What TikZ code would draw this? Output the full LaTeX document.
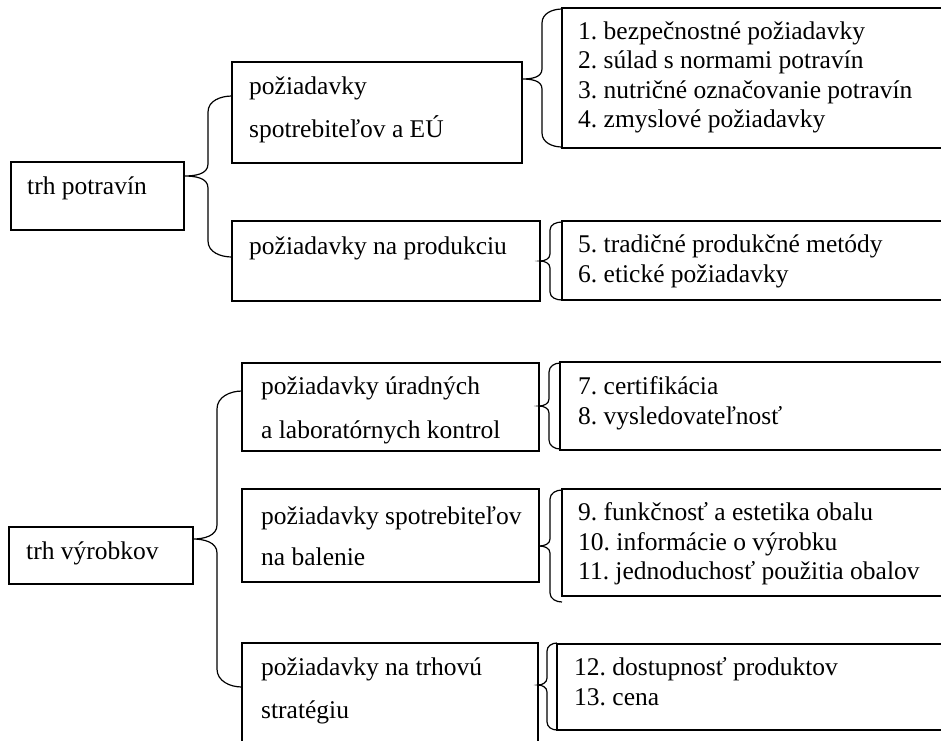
\documentclass[tikz,border=0pt]{standalone}
\usepackage{fontspec}
\setmainfont{Liberation Serif}
\frenchspacing
\newcommand\mybrc[8]{%
  \draw[brc] (#4,#5) to[out=180,in=90] (#3,{#5+#8}) -- (#3,{#2-#7})
    to[out=-90,in=0] (#1,#2) to[out=0,in=90] (#3,{#2+#7}) -- (#3,{#6-#8})
    to[out=-90,in=180] (#4,#6);}
\begin{document}
\frenchspacing
\begin{tikzpicture}[x=1pt,y=-1pt,
  box/.style={draw, line width=1.4pt, inner sep=0pt, outer sep=0pt, anchor=north west},
  brc/.style={line width=1.2pt},
  txt/.style={inner sep=0pt, anchor=base west, font=\fontsize{25.5}{29}\selectfont\frenchspacing}]
\useasboundingbox (0,0) rectangle (941,740);
\clip (0,0) rectangle (941,740);
% boxes
\node[box, minimum width=173pt, minimum height=68pt] (T1) at (11,162) {};
\node[box, minimum width=290pt, minimum height=101pt] (A) at (232,62) {};
\node[box, minimum width=308pt, minimum height=80pt] (B) at (232,221) {};
\node[box, minimum width=400pt, minimum height=140pt] (L1) at (562,8) {};
\node[box, minimum width=400pt, minimum height=79pt] (L2) at (562,221) {};
\node[box, minimum width=184pt, minimum height=57pt] (T2) at (9,527) {};
\node[box, minimum width=297pt, minimum height=88pt] (C) at (242,363) {};
\node[box, minimum width=297pt, minimum height=93pt] (D) at (242,489) {};
\node[box, minimum width=296pt, minimum height=130pt] (E) at (242,643) {};
\node[box, minimum width=400pt, minimum height=88pt] (L3) at (560,362) {};
\node[box, minimum width=400pt, minimum height=107pt] (L4) at (562,489) {};
\node[box, minimum width=400pt, minimum height=86pt] (L5) at (557,644) {};
% braces
\mybrc{184}{176}{208}{232}{96}{257}{12}{16}
\mybrc{522}{79}{542}{562}{9}{147}{10}{14}
\mybrc{540}{261}{550}{562}{222}{300}{7}{8}
\mybrc{193}{539}{217}{242}{391}{687}{14}{18}
\mybrc{539}{406}{549}{560}{363}{449}{7}{9}
\mybrc{539}{546}{550}{562}{490}{602}{7}{9}
\mybrc{538}{685}{547}{557}{643}{730}{7}{8}
% texts
\node[txt] (t1) at (27,194) {trh potravín};
\node[txt] (a1) at (249,94) {požiadavky};
\node[txt] (a2) at (249,137) {spotrebiteľov a EÚ};
\node[txt] (b1) at (249,254) {požiadavky na produkciu};
\node[txt] (l11) at (578,39) {1. bezpečnostné požiadavky};
\node[txt] (l12) at (578,68) {2. súlad s normami potravín};
\node[txt] (l13) at (578,98) {3. nutričné označovanie potravín};
\node[txt] (l14) at (578,127) {4. zmyslové požiadavky};
\node[txt] (l21) at (578,252) {5. tradičné produkčné metódy};
\node[txt] (l22) at (578,282) {6. etické požiadavky};
\node[txt] (t2) at (26,559) {trh výrobkov};
\node[txt] (c1) at (261,394) {požiadavky úradných};
\node[txt] (c2) at (261,438) {a laboratórnych kontrol};
\node[txt] (d1) at (261,524) {požiadavky spotrebiteľov};
\node[txt] (d2) at (261,565) {na balenie};
\node[txt] (e1) at (261,675) {požiadavky na trhovú};
\node[txt] (e2) at (261,718) {stratégiu};
\node[txt] (l31) at (578,394) {7. certifikácia};
\node[txt] (l32) at (578,424) {8. vysledovateľnosť};
\node[txt] (l41) at (578,520) {9. funkčnosť a estetika obalu};
\node[txt] (l42) at (578,550) {10. informácie o výrobku};
\node[txt] (l43) at (578,579) {11. jednoduchosť použitia obalov};
\node[txt] (l51) at (574,675) {12. dostupnosť produktov};
\node[txt] (l52) at (574,705) {13. cena};
\end{tikzpicture}
\end{document}
